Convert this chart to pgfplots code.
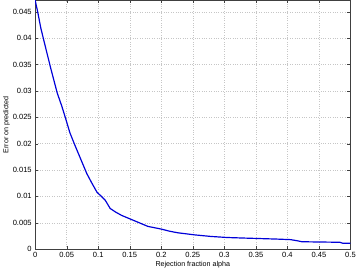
\documentclass[border=0pt]{standalone}
\usepackage{pgfplots}
\pgfplotsset{compat=1.18}
\usepackage{fontspec}
\setmainfont{Liberation Sans}
\begin{document}
\begin{tikzpicture}
\begin{axis}[
  scale only axis,
  width=318pt, height=251pt,
  xmin=0, xmax=0.5, ymin=0, ymax=0.0472,
  xtick={0,0.05,0.1,0.15,0.2,0.25,0.3,0.35,0.4,0.45,0.5},
  xticklabels={0,0.05,0.1,0.15,0.2,0.25,0.3,0.35,0.4,0.45,0.5},
  ytick={0,0.005,0.01,0.015,0.02,0.025,0.03,0.035,0.04,0.045},
  yticklabels={0,0.005,0.01,0.015,0.02,0.025,0.03,0.035,0.04,0.045},
  scaled ticks=false,
  tick align=inside,
  tick pos=both,
  major tick length=3pt,
  grid=major,
  grid style={dotted, gray!45, line width=0.5pt},
  axis line style={black!75},
  tick style={black!75},
  ticklabel style={font=\fontsize{7.6}{9}\selectfont},
  label style={font=\fontsize{7.2}{8}\selectfont},
  xlabel={Rejection fraction alpha},
  ylabel={Error on predicted},
  xlabel style={yshift=3pt},
  ylabel style={yshift=-4pt},
  /pgf/number format/assume math mode=true,
]
\addplot[blue!85!black, line width=1.2pt, line join=round] coordinates {
(0,0.0472) (0.004,0.0450) (0.009,0.0419) (0.0168,0.0381) (0.0247,0.0343)
(0.035,0.0296) (0.042,0.0272) (0.048,0.0249) (0.055,0.0221) (0.062,0.0200)
(0.069,0.0180) (0.076,0.0160) (0.082,0.0143) (0.090,0.0125) (0.098,0.0108)
(0.105,0.0100) (0.111,0.0093) (0.119,0.0077) (0.128,0.0070) (0.137,0.0064)
(0.145,0.0060) (0.153,0.0056) (0.165,0.0050) (0.179,0.0043) (0.2,0.0038)
(0.213,0.0034) (0.226,0.0031) (0.253,0.0027) (0.279,0.0024) (0.305,0.0022)
(0.33,0.0021) (0.357,0.0020) (0.384,0.0019) (0.405,0.0018) (0.415,0.0016)
(0.423,0.0014) (0.45,0.00135) (0.483,0.0013) (0.488,0.0011) (0.5,0.0011)
};
\end{axis}
\end{tikzpicture}
\end{document}
